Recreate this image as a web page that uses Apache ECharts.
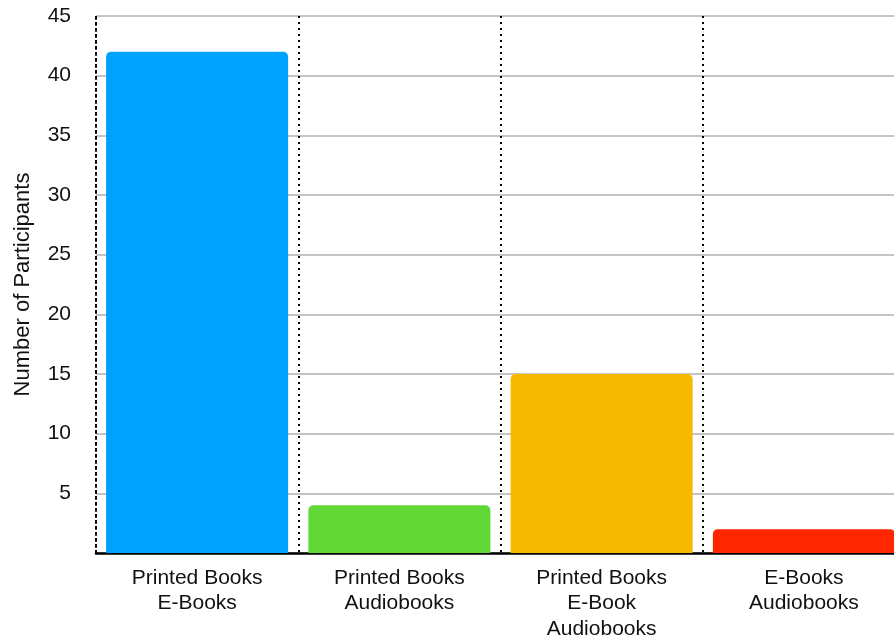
<!DOCTYPE html>
<html>
<head>
<meta charset="utf-8">
<style>
  html, body { margin: 0; padding: 0; background: #ffffff; }
  #chart { width: 894px; height: 639px; }
</style>
<script src="https://cdn.jsdelivr.net/npm/echarts@6/dist/echarts.min.js"></script>
</head>
<body>
<div id="chart"></div>
<script>
// Reading-format combinations and how many participants chose each
const categories = [
  'Printed Books\nE-Books',
  'Printed Books\nAudiobooks',
  'Printed Books\nE-Book\nAudiobooks',
  'E-Books\nAudiobooks'
];
const participants = [42, 4, 15, 2];
const barColors = ['#00A2FF', '#61D836', '#F8BA00', '#FF2600'];
const yTicks = { min: 0, max: 45, interval: 5 };

const FONT = '"Liberation Sans", Arial, Helvetica, sans-serif';
const dotted = { color: '#000000', width: 2, type: [2, 4] };

const chart = echarts.init(document.getElementById('chart'));
chart.setOption({
  animation: false,
  backgroundColor: '#ffffff',
  // the plot runs slightly past the right edge, so the last bar is cut off
  grid: {
    left: 96, width: 809, top: 16, height: 537,
    containLabel: false, outerBoundsMode: 'none'
  },
  xAxis: {
    type: 'category',
    data: categories,
    axisLine: { show: true, lineStyle: { color: '#000000', width: 2.5 } },
    axisTick: { show: false },
    splitLine: { show: true, lineStyle: dotted },
    axisLabel: {
      color: '#111111', fontFamily: FONT, fontSize: 21,
      lineHeight: 25.5, margin: 12, interval: 0
    }
  },
  yAxis: {
    type: 'value',
    min: yTicks.min, max: yTicks.max, interval: yTicks.interval,
    name: 'Number of Participants',
    nameLocation: 'middle',
    nameGap: 62,
    nameRotate: 90,
    nameTextStyle: { color: '#111111', fontFamily: FONT, fontSize: 22 },
    axisLine: { show: true, lineStyle: dotted },
    axisTick: { show: false },
    splitLine: { show: true, lineStyle: { color: '#c4c4c4', width: 2 } },
    axisLabel: {
      color: '#111111', fontFamily: FONT, fontSize: 21, margin: 25,
      formatter: v => (v === 0 ? '' : String(v))
    }
  },
  series: [{
    type: 'bar',
    barCategoryGap: '10%',
    data: participants.map((v, i) => ({
      value: v,
      itemStyle: { color: barColors[i], borderRadius: [5, 5, 0, 0] }
    })),
    z: 3
  }]
});
</script>
</body>
</html>
